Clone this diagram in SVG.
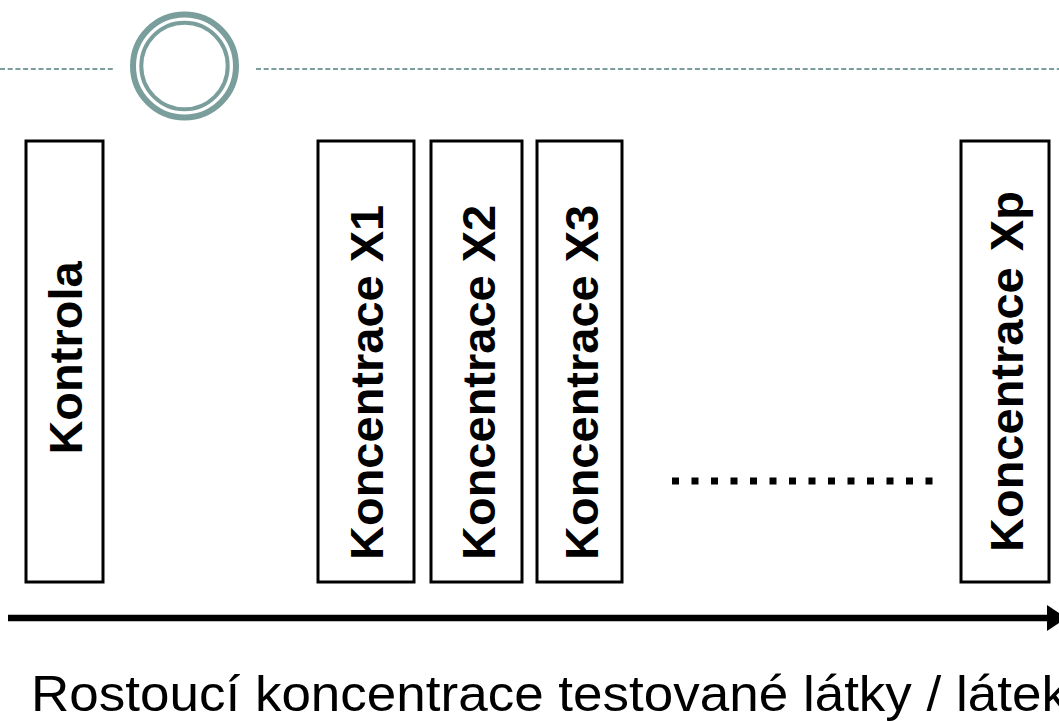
<svg xmlns="http://www.w3.org/2000/svg" width="1059" height="721" viewBox="0 0 1059 721">
<style>
.box{fill:#ffffff;stroke:#000000;stroke-width:3}
.vt{font-family:"Liberation Sans",Arial,sans-serif;font-weight:bold;font-size:47px;fill:#000000}
.deco{fill:none;stroke:#7a9e9c}
</style>
<defs>
<marker id="ah" markerWidth="4" markerHeight="4" refX="0" refY="2" orient="auto" markerUnits="strokeWidth" viewBox="0 0 4 4">
<path d="M0,0 L3,2 L0,4 Z" fill="#000000"/>
</marker>
</defs>
<rect width="1059" height="721" fill="#ffffff"/>
<g id="header">
<line class="deco" x1="0" y1="69" x2="113" y2="69" stroke-width="2" stroke-dasharray="5,2.7"/>
<line class="deco" x1="256" y1="69" x2="1059" y2="69" stroke-width="2" stroke-dasharray="5,2.7"/>
<circle class="deco" cx="184.5" cy="66" r="51.5" stroke-width="6"/>
<circle class="deco" cx="184.5" cy="66" r="43.2" stroke-width="4"/>
</g>
<g id="kontrola">
<rect class="box" x="26" y="141" width="77" height="441"/>
<text class="vt" transform="translate(82,358) rotate(-90)" text-anchor="middle">Kontrola</text>
</g>
<g id="x1">
<rect class="box" x="318" y="141" width="96" height="441"/>
<text class="vt" transform="translate(383,560) rotate(-90)">Koncentrace X1</text>
</g>
<g id="x2">
<rect class="box" x="431" y="141" width="91" height="441"/>
<text class="vt" transform="translate(495,560) rotate(-90)">Koncentrace X2</text>
</g>
<g id="x3">
<rect class="box" x="537" y="141" width="85" height="441"/>
<text class="vt" transform="translate(598,560) rotate(-90)">Koncentrace X3</text>
</g>
<g id="xp">
<rect class="box" x="961" y="141" width="88" height="441"/>
<text class="vt" transform="translate(1023,552) rotate(-90)" xml:space="preserve">Koncentrace  <tspan dx="-10">Xp</tspan></text>
</g>
<g id="connectors">
<line x1="672" y1="481" x2="934" y2="481" stroke="#000000" stroke-width="7" stroke-dasharray="7,12.5"/>
<line x1="8" y1="618" x2="1047" y2="618" stroke="#000000" stroke-width="6.5" marker-end="url(#ah)"/>
</g>
<g id="axis-label">
<text x="31" y="711" font-family="'Liberation Sans',Arial,sans-serif" font-size="50" textLength="1037" lengthAdjust="spacingAndGlyphs" fill="#000000">Rostoucí koncentrace testované látky / látek</text>
</g>
</svg>
